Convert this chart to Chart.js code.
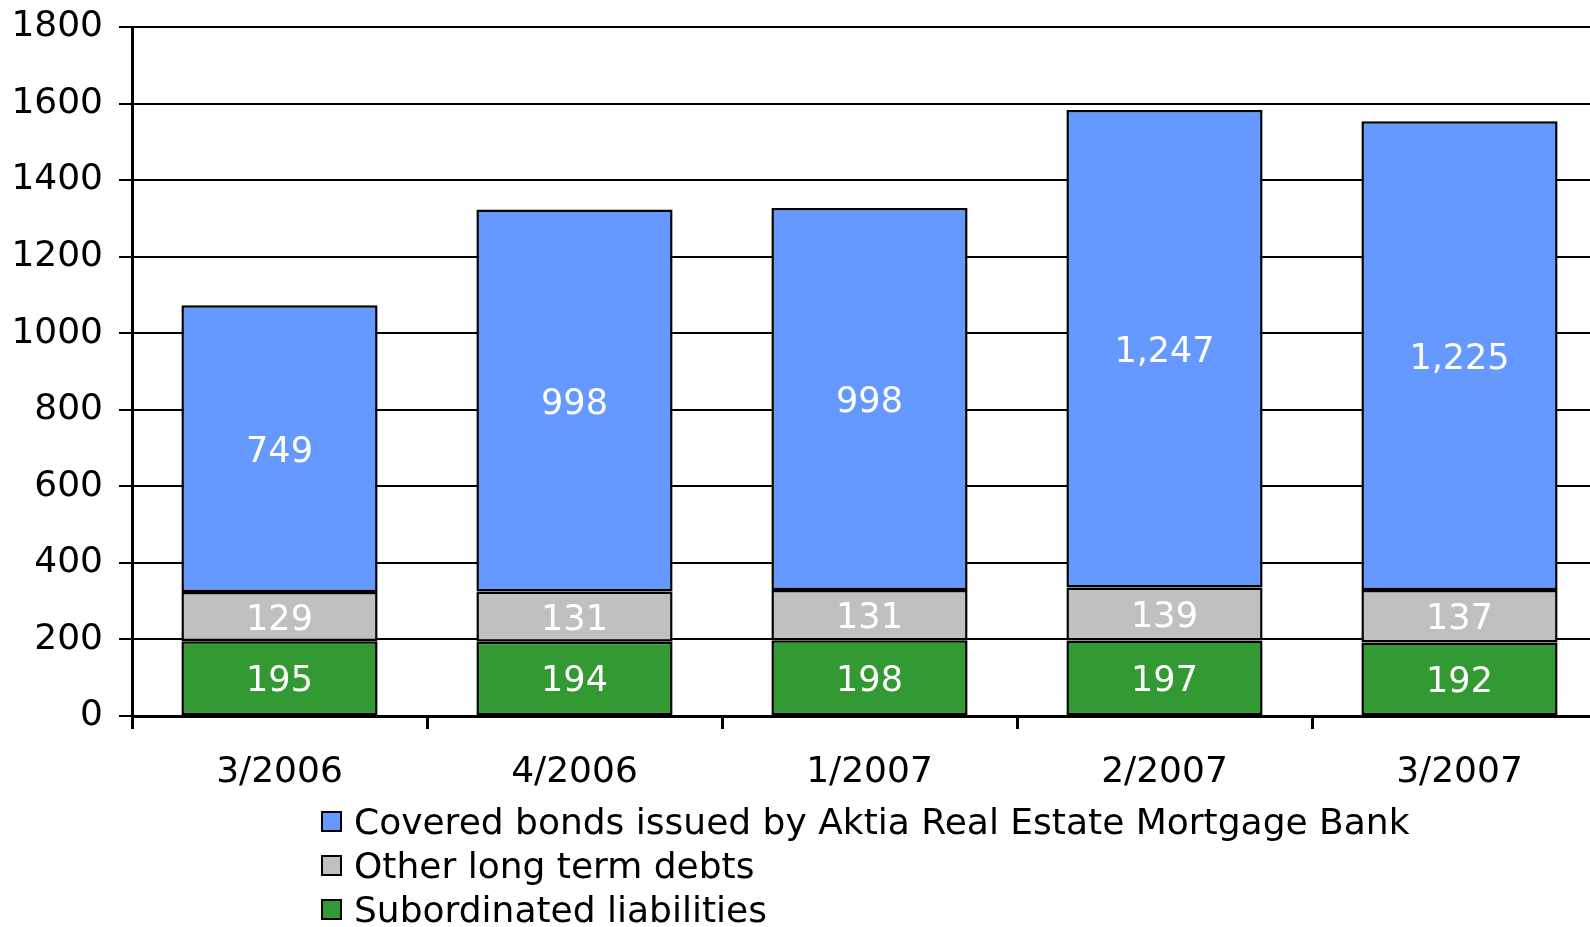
<!DOCTYPE html>
<html>
<head>
<meta charset="utf-8">
<script src="https://cdn.jsdelivr.net/npm/chart.js@4.4.1/dist/chart.umd.min.js"></script>
<style>
  html, body { margin: 0; padding: 0; background: #fff; overflow: hidden; }
  #wrap { position: relative; width: 1620px; height: 927px; }
  #legend { position: absolute; left: 321px; top: 800px; font-family: "DejaVu Sans", Verdana, sans-serif; font-size: 36px; color: #000; }
  .item { height: 44px; line-height: 44px; white-space: nowrap; }
  .box { display: inline-block; width: 17px; height: 17px; border: 2px solid #000; vertical-align: middle; margin-right: 12px; position: relative; top: -3px; }
</style>
</head>
<body>
<div id="wrap">
  <canvas id="debtChart" width="1620" height="927"></canvas>
  <div id="legend"></div>
</div>
<script>
const periods = ["3/2006", "4/2006", "1/2007", "2/2007", "3/2007"];
const subordinated = [195, 194, 198, 197, 192];
const otherLongTerm = [129, 131, 131, 139, 137];
const coveredBonds = [749, 998, 998, 1247, 1225];
const seriesNames = ["Subordinated liabilities", "Other long term debts", "Covered bonds issued by Aktia Real Estate Mortgage Bank"];
const seriesColors = ["#339933", "#c0c0c0", "#6699ff"];
const yTicks = [0, 200, 400, 600, 800, 1000, 1200, 1400, 1600, 1800];

const font = "DejaVu Sans";

// white value labels in the middle of every segment
const valueLabels = {
  id: "valueLabels",
  afterDatasetsDraw(chart) {
    const ctx = chart.ctx;
    ctx.save();
    ctx.fillStyle = "#fff";
    ctx.font = "35px '" + font + "'";
    ctx.textAlign = "center";
    ctx.textBaseline = "middle";
    chart.data.datasets.forEach((ds, i) => {
      chart.getDatasetMeta(i).data.forEach((bar, j) => {
        const y = (bar.y + bar.base) / 2;
        ctx.fillText(ds.data[j].toLocaleString("en-US"), bar.x, y + 4);
      });
    });
    ctx.restore();
  }
};

const sets = [subordinated, otherLongTerm, coveredBonds].map((vals, i) => ({
  label: seriesNames[i],
  data: vals,
  backgroundColor: seriesColors[i],
  borderColor: "#000",
  borderWidth: 2.5,
  borderSkipped: false,
  barPercentage: 0.665,
  categoryPercentage: 1
}));

const ctx = document.getElementById("debtChart").getContext("2d");
new Chart(ctx, {
  type: "bar",
  data: { labels: periods, datasets: sets },
  options: {
    responsive: false,
    animation: false,
    layout: { padding: { left: 0, top: 27, right: 13, bottom: 121 } },
    plugins: { legend: { display: false }, tooltip: { enabled: false } },
    scales: {
      x: {
        stacked: true,
        afterFit: axis => { axis.height = 90; axis.paddingLeft = 0; axis.paddingRight = 0; },
        grid: { drawOnChartArea: false, color: "#000", lineWidth: 3, tickLength: 13 },
        border: { color: "#000", width: 3 },
        ticks: { color: "#000", font: { family: font, size: 36 }, padding: 22, maxRotation: 0 }
      },
      y: {
        stacked: true,
        min: 0,
        max: 1800,
        afterBuildTicks: axis => { axis.ticks = yTicks.map(v => ({ value: v })); },
        afterFit: axis => { axis.width = 132; axis.paddingTop = 0; axis.paddingBottom = 0; },
        grid: { color: "#000", lineWidth: 2, tickLength: 13 },
        border: { color: "#000", width: 3 },
        ticks: { color: "#000", font: { family: font, size: 36 }, padding: 16, callback: v => String(v) }
      }
    }
  },
  plugins: [valueLabels]
});

// legend, top to bottom like the original
const legend = document.getElementById("legend");
[2, 1, 0].forEach(i => {
  const row = document.createElement("div");
  row.className = "item";
  row.innerHTML = '<span class="box" style="background:' + seriesColors[i] + '"></span>' + seriesNames[i];
  legend.appendChild(row);
});
</script>
</body>
</html>
